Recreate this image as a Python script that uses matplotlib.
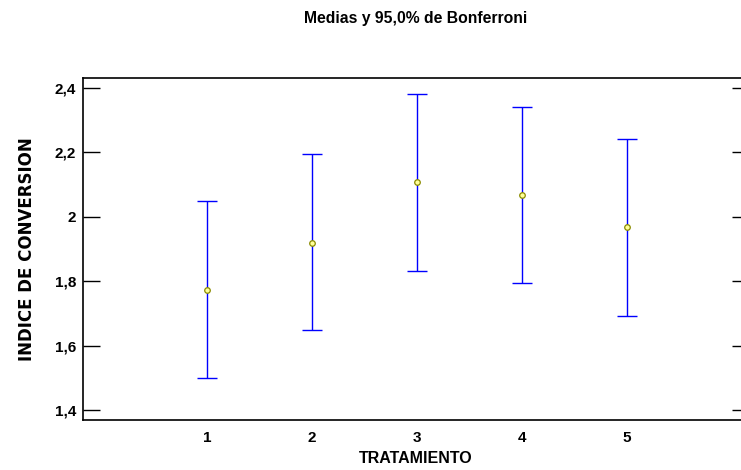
import matplotlib
matplotlib.use("Agg")
import matplotlib.pyplot as plt
import numpy as np

# Treatment means with 95% Bonferroni intervals
tratamientos = ["1", "2", "3", "4", "5"]
medias = [1.774, 1.920, 2.108, 2.069, 1.968]
limite_inferior = [1.498, 1.648, 1.833, 1.794, 1.693]
limite_superior = [2.048, 2.195, 2.382, 2.341, 2.243]
yticks = [1.4, 1.6, 1.8, 2.0, 2.2, 2.4]
ytick_labels = ["1,4", "1,6", "1,8", "2", "2,2", "2,4"]

plt.rcParams["font.family"] = ["Liberation Sans", "DejaVu Sans"]
plt.rcParams["font.weight"] = "bold"

fig = plt.figure(figsize=(7.41, 4.70), dpi=100)
W, H = 741, 470
left, right, top, bottom = 83, 749, 78, 420
ax = fig.add_axes([left / W, 1 - bottom / H, (right - left) / W, (bottom - top) / H])

x = np.arange(1, len(tratamientos) + 1)
medias_a = np.array(medias)
err = np.vstack([medias_a - np.array(limite_inferior),
                 np.array(limite_superior) - medias_a])

ax.errorbar(x, medias_a, yerr=err, fmt="none", ecolor="#0000ff",
            elinewidth=1.0, capsize=7.5, capthick=1.0, zorder=2)
ax.plot(x, medias_a, linestyle="none", marker="o", markersize=4,
        markerfacecolor="#ffff99", markeredgecolor="#8a8a00",
        markeredgewidth=0.9, zorder=3)

ax.set_xlim(-0.18, 6.16)
ax.set_ylim(1.369, 2.431)
ax.set_xticks(x)
ax.set_xticklabels(tratamientos, fontsize=11, fontweight="bold")
ax.set_yticks(yticks)
ax.set_yticklabels(ytick_labels, fontsize=11, fontweight="bold")

ax.tick_params(axis="x", length=0, pad=8)
ax.tick_params(axis="y", direction="in", length=12, width=1.0, pad=5,
               right=True, left=True)

for side in ["left", "bottom", "top", "right"]:
    ax.spines[side].set_linewidth(1.2)

ax.set_xlabel("TRATAMIENTO", fontsize=11.5, fontweight="bold", labelpad=4)
ax.set_ylabel("INDICE DE CONVERSION", fontsize=12, fontweight="bold",
              family=["DejaVu Sans"])
ax.yaxis.set_label_coords(-(left - 36) / (right - left), 0.5)
fig.text((left + right) / 2 / W, 1 - 19 / H, "Medias y 95,0% de Bonferroni",
         ha="center", va="center", fontsize=11.3, fontweight="bold")

fig.savefig("out.png", dpi=100)
